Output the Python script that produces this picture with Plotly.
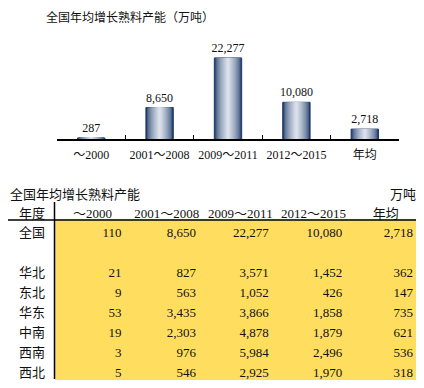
import plotly.graph_objects as go

# ---- data ----
chart_title = "全国年均增长熟料产能（万吨）"
periods = ["～2000", "2001～2008", "2009～2011", "2012～2015", "年均"]
national = [287, 8650, 22277, 10080, 2718]

table_title = "全国年均增长熟料产能"
table_unit = "万吨"
header = ["年度", "～2000", "2001～2008", "2009～2011", "2012～2015", "年均"]
regions = ["全国", "", "华北", "东北", "华东", "中南", "西南", "西北"]
col_2000 = [110, None, 21, 9, 53, 19, 3, 5]
col_2008 = [8650, None, 827, 563, 3435, 2303, 976, 546]
col_2011 = [22277, None, 3571, 1052, 3866, 4878, 5984, 2925]
col_2015 = [10080, None, 1452, 426, 1858, 1879, 2496, 1970]
col_avg = [2718, None, 362, 147, 735, 621, 536, 318]

# the page body has an 8px margin; size the figure to what is left
OFF = 8
W, H = 424 - OFF, 388 - OFF
SERIF = "Liberation Serif, Noto Sans CJK SC, serif"
SANS = "Noto Sans CJK SC, sans-serif"
YELLOW = "#FFDE5F"


def px_x(x):
    return max(0.0, (x - OFF) / W)


def px_y(y):
    return min(1.0, max(0.0, 1 - (y - OFF) / H))


def fmt(v):
    return "" if v is None else f"{v:,}"


fig = go.Figure()

# cylinder-like gradient bars: overlaid bars of decreasing width
dark = (31, 58, 104)
light = (218, 225, 235)
N = 12
full_w = 0.40
for i in range(N):
    t = i / (N - 1)
    c = tuple(int(dark[k] + (light[k] - dark[k]) * (t ** 0.6)) for k in range(3))
    w = full_w * (1 - i / N)
    kw = {}
    if i == 0:
        kw = dict(text=[f"{v:,}" for v in national], textposition="outside",
                  constraintext="none",
                  textfont=dict(family=SERIF, size=12, color="#111"),
                  cliponaxis=False)
    fig.add_trace(go.Bar(
        x=periods, y=national, width=w,
        marker=dict(color=f"rgb{c}",
                    line=dict(color="#1F3A68", width=1 if i == 0 else 0)),
        hoverinfo="skip" if i else "x+y", showlegend=False, **kw))

fig.update_layout(
    barmode="overlay",
    width=W, height=H,
    margin=dict(l=0, r=0, t=0, b=0),
    paper_bgcolor="white", plot_bgcolor="white",
    xaxis=dict(domain=[px_x(57), px_x(399)], showline=True, linecolor="black",
               linewidth=1.5, ticks="inside", ticklen=4, tickcolor="black",
               tickson="boundaries", showgrid=False, ticklabelstandoff=4,
               tickangle=0,
               tickfont=dict(family=SERIF, size=12, color="#111"),
               fixedrange=True),
    yaxis=dict(domain=[px_y(139), px_y(48)], range=[0, 25000], visible=False,
               showgrid=False, fixedrange=True),
)

# table
fills = ["white", YELLOW, YELLOW, YELLOW, YELLOW, YELLOW]
fig.add_trace(go.Table(
    domain=dict(x=[px_x(6), px_x(421)], y=[px_y(388), px_y(200)]),
    columnwidth=[48, 74, 75, 73, 74, 71],
    header=dict(values=header, height=19,
                fill_color="white", line=dict(color="white", width=0),
                align=["center"] * 6,
                font=dict(family=[SANS, SERIF, SERIF, SERIF, SERIF, SANS],
                          size=13, color="#111")),
    cells=dict(values=[regions,
                       [fmt(v) for v in col_2000],
                       [fmt(v) for v in col_2008],
                       [fmt(v) for v in col_2011],
                       [fmt(v) for v in col_2015],
                       [fmt(v) for v in col_avg]],
               height=20,
               fill_color=fills,
               line=dict(color=fills, width=1),
               align=["center", "right", "right", "right", "right", "right"],
               font=dict(family=[SANS, SERIF, SERIF, SERIF, SERIF, SERIF],
                         size=13, color="#111")),
))

# table rules
fig.add_shape(type="line", xref="paper", yref="paper",
              x0=px_x(6), x1=px_x(420), y0=px_y(220), y1=px_y(220),
              line=dict(color="black", width=1.5))
fig.add_shape(type="line", xref="paper", yref="paper",
              x0=px_x(54.5), x1=px_x(54.5), y0=px_y(202), y1=px_y(379),
              line=dict(color="black", width=1.5))

# titles
fig.add_annotation(text=chart_title, xref="paper", yref="paper",
                   x=px_x(44), y=px_y(17), xanchor="left", yanchor="middle",
                   showarrow=False, font=dict(family=SANS, size=12, color="#111"))
fig.add_annotation(text=table_title, xref="paper", yref="paper",
                   x=px_x(7), y=px_y(193), xanchor="left", yanchor="middle",
                   showarrow=False, font=dict(family=SANS, size=13, color="#111"))
fig.add_annotation(text=table_unit, xref="paper", yref="paper",
                   x=px_x(418), y=px_y(193), xanchor="right", yanchor="middle",
                   showarrow=False, font=dict(family=SANS, size=13, color="#111"))

fig.write_html("out.html")
